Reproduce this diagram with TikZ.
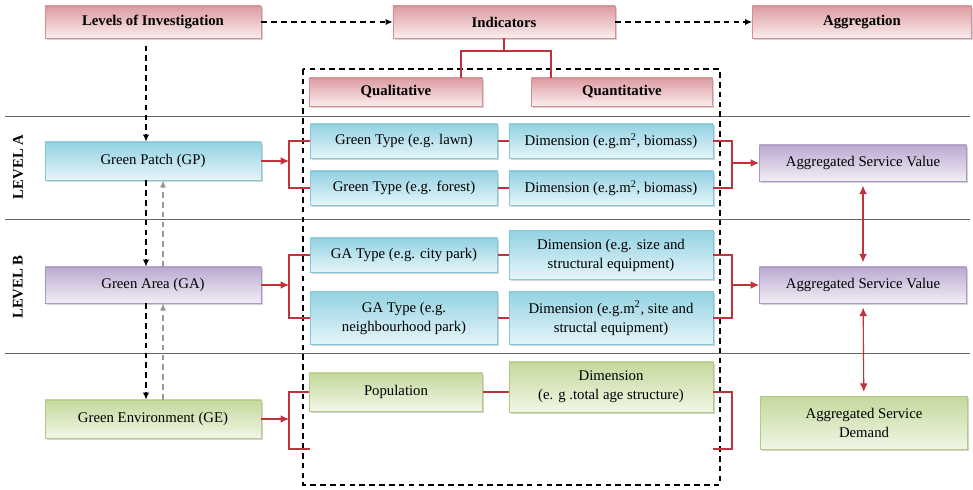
\documentclass[tikz,border=0pt]{standalone}
\usepackage{fontspec}
\setmainfont{Liberation Serif}
\usepackage{tikz}
\usetikzlibrary{calc}
\usetikzlibrary{arrows.meta}
\usetikzlibrary{shadows}
\usetikzlibrary{positioning}
\definecolor{pinkD}{HTML}{DC9CA1}
\definecolor{pinkL}{HTML}{FAEDEE}
\definecolor{pinkB}{HTML}{D98D92}
\definecolor{blueD}{HTML}{93D2E2}
\definecolor{blueL}{HTML}{E6F5F9}
\definecolor{blueB}{HTML}{86C8DA}
\definecolor{purpD}{HTML}{BBA9D0}
\definecolor{purpL}{HTML}{F2EEF6}
\definecolor{purpB}{HTML}{AB98C4}
\definecolor{grnD}{HTML}{C4D99C}
\definecolor{grnL}{HTML}{F1F6E7}
\definecolor{grnB}{HTML}{B3CB87}
\definecolor{redl}{HTML}{C1323B}
\tikzset{box/.style={rectangle,inner sep=1pt,align=center,line width=0.6pt,font=\fontsize{10.5}{13.5}\selectfont,drop shadow={shadow xshift=1.2pt,shadow yshift=-1.2pt,opacity=0.35}}}
\tikzset{hdr/.style={box,draw=pinkB,top color=pinkD,bottom color=pinkL,font=\fontsize{10.5}{13}\selectfont\bfseries,minimum height=0.8cm}}
\tikzset{bl/.style={box,draw=blueB,top color=blueD,bottom color=blueL}}
\tikzset{pu/.style={box,draw=purpB,top color=purpD,bottom color=purpL}}
\tikzset{gr/.style={box,draw=grnB,top color=grnD,bottom color=grnL}}
\tikzset{lv/.style={minimum width=5.4cm,minimum height=0.95cm}}
\tikzset{ql/.style={minimum width=4.675cm,minimum height=0.85cm}}
\tikzset{dm/.style={minimum width=5.1cm,minimum height=0.85cm}}
\tikzset{ag/.style={minimum width=5.175cm,minimum height=0.9cm}}
\tikzset{lvl/.style={rotate=90,font=\fontsize{10.5}{13}\selectfont\bfseries}}
\tikzset{sep/.style={draw=black!60,line width=0.6pt}}
\tikzset{dline/.style={dash pattern=on 4pt off 3pt,line width=0.8pt,black}}
\tikzset{gline/.style={dash pattern=on 4pt off 3pt,line width=0.8pt,black!40}}
\tikzset{rline/.style={draw=redl,line width=0.8pt}}
\tikzset{tip/.style={-{Latex[length=5pt,width=4.5pt]}}}
\tikzset{rtip/.style={-{Latex[length=6pt,width=5.5pt]}}}
\tikzset{rtips/.style={{Latex[length=6pt,width=5.5pt]}-{Latex[length=6pt,width=5.5pt]}}}

\begin{document}
\begin{tikzpicture}[x=0.025cm,y=-0.025cm]
\useasboundingbox (0,0) rectangle (973,490);

\foreach \y in {116,219,353} {
	\draw[sep] (5,\y) -- (970,\y);
}
\draw[dline] (303,69) rectangle (720,485);
\node[lvl] (LA) at (18,167) {LEVEL A};
\node[lvl] (LB) at (18,287) {LEVEL B};

% headers
\node[hdr,minimum width=5.4cm] (LI) at (153,22) {Levels of Investigation};
\node[hdr,minimum width=5.55cm] (IN) at (504,22) {Indicators};
\node[hdr,minimum width=5.475cm] (AG) at (862,22) {Aggregation};
\node[hdr,minimum width=4.325cm,minimum height=0.7cm] (QL) at (396,92) {Qualitative};
\node[hdr,minimum width=4.525cm,minimum height=0.7cm] (QN) at (622,92) {Quantitative};

% levels
\node[bl,lv] (GP) at (153,161) {Green Patch (GP)};
\node[pu,lv,minimum height=0.9cm] (GA) at (153,285) {Green Area (GA)};
\node[gr,lv] (GE) at (153,419) {Green Environment (GE)};

% qualitative
\node[bl,ql] (GTa) at (404,141) {Green Type (e.g. lawn)};
\node[bl,ql] (GTb) at (404,188) {Green Type (e.g. forest)};
\node[bl,ql] (GAa) at (404,255) {GA Type (e.g. city park)};
\node[bl,ql,minimum height=1.325cm] (GAb) at (404,318) {GA Type (e.g.\\neighbourhood park)};
\node[gr,minimum width=4.325cm,minimum height=0.95cm] (PO) at (396,392) {Population};

% quantitative
\node[bl,dm] (DMa) at (611,141) {Dimension (e.g.m\textsuperscript{2}, biomass)};
\node[bl,dm] (DMb) at (611,188) {Dimension (e.g.m\textsuperscript{2}, biomass)};
\node[bl,dm,minimum height=1.225cm] (DGa) at (611,255) {Dimension (e.g. size and\\structural equipment)};
\node[bl,dm,minimum height=1.325cm] (DGb) at (611,318) {Dimension (e.g.m\textsuperscript{2}, site and\\structal equipment)};
\node[gr,dm,minimum height=1.25cm] (DP) at (611,387) {Dimension\\(e. g .total age structure)};

% aggregation
\node[pu,ag] (SVa) at (863,163) {Aggregated Service Value};
\node[pu,ag] (SVb) at (863,285) {Aggregated Service Value};
\node[gr,ag,minimum height=1.325cm] (SD) at (864,423) {Aggregated Service\\Demand};

% dashed flow
\draw[dline,tip] (LI) -- (IN);
\draw[dline,tip] (IN) -- (AG);
\coordinate (vb) at (146,0);
\coordinate (vg) at (163,0);
\draw[dline,tip,shorten <=0.18cm] (LI.south -| vb) -- (GP.north -| vb);
\draw[dline,tip] (GP.south -| vb) -- (GA.north -| vb);
\draw[dline,tip] (GA.south -| vb) -- (GE.north -| vb);
\draw[gline,tip] (GE.north -| vg) -- (GA.south -| vg);
\draw[gline,tip] (GA.north -| vg) -- (GP.south -| vg);

% indicator tree
\coordinate (ti) at (504,51);
\coordinate (tl) at (461,51);
\coordinate (tr) at (551,51);
\draw[rline] (IN.south) -- (ti);
\draw[rline] (QL.north -| tl) -- (tl) -- (tr) -- (QN.north -| tr);

% qualitative -- quantitative
\foreach \a/\b in {GTa/DMa,GTb/DMb,GAa/DGa,GAb/DGb} {
	\draw[rline] (\a.east) -- (\b.west);
}
\draw[rline] (PO.east) -- (PO.east -| DP.west);

% brackets
\foreach \l/\s/\p/\q/\m/\n/\y in {A/GP/GTa/GTb/DMa/DMb/161,B/GA/GAa/GAb/DGa/DGb/285} {
	\coordinate (j\l) at (289,\y);
	\coordinate (k\l) at (732,\y);
	\draw[rline,rtip] (\s) -- (j\l);
	\draw[rline] (\p.west) -| (j\l) |- (\q.west);
	\draw[rline] (\m.east) -| (k\l) |- (\n.east);
}
\coordinate (kA2) at (732,163);
\draw[rline,rtip] (kA2) -- (SVa);
\draw[rline,rtip] (kB) -- (SVb);

\coordinate (jC) at (289,419);
\coordinate (eC) at (310,449);
\coordinate (kC) at (732,449);
\coordinate (eR) at (713,449);
\draw[rline,rtip] (GE) -- (jC);
\draw[rline] (PO.west) -| (jC) |- (eC);
\draw[rline] (PO.east -| DP.east) -| (kC) |- (eR);

% aggregation links
\draw[rline,rtips,shorten <=3pt,shorten >=3pt] (SVa) -- (SVb);
\draw[rline,rtips,shorten <=3pt,shorten >=3pt] (SVb) -- (SD);
\end{tikzpicture}
\end{document}
